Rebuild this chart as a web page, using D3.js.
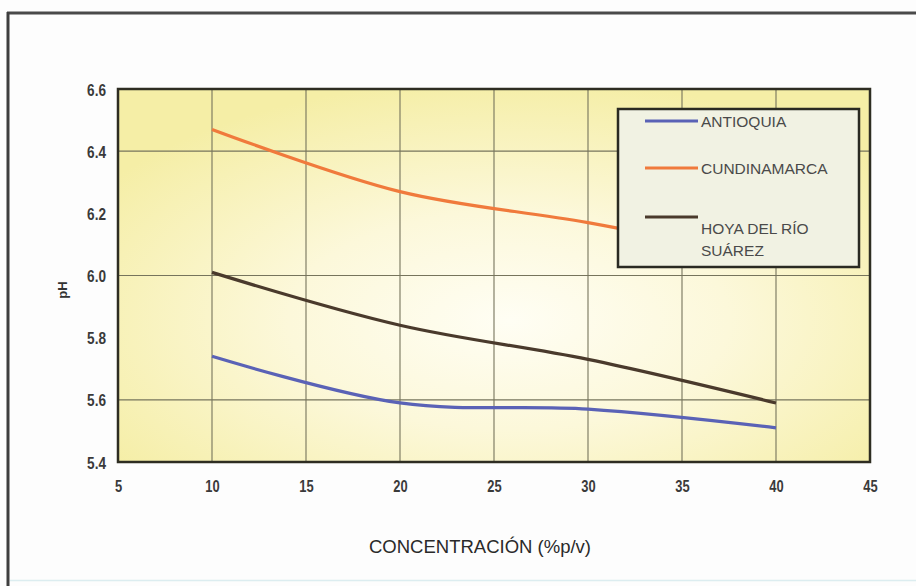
<!DOCTYPE html>
<html>
<head>
<meta charset="utf-8">
<script src="https://cdn.jsdelivr.net/npm/d3@7/dist/d3.min.js"></script>
<style>
  html, body { margin: 0; padding: 0; background: #fdfdfd; }
  svg { display: block; }
  text { font-family: "Liberation Sans", Arial, sans-serif; }
</style>
</head>
<body>
<svg id="chart" width="916" height="586"></svg>
<script>
// ---- data ----
const concentrations = [10, 20, 30, 40];
const seriesNames = ["ANTIOQUIA", "CUNDINAMARCA", "HOYA DEL RÍO SUÁREZ"];
const antioquia = [5.74, 5.59, 5.57, 5.51];
const cundinamarca = [6.47, 6.27, 6.17, 6.05];
const hoya = [6.01, 5.84, 5.73, 5.59];
const xTicks = [5, 10, 15, 20, 25, 30, 35, 40, 45];
const yTicks = [5.4, 5.6, 5.8, 6.0, 6.2, 6.4, 6.6];
const yGrid = [5.6, 6.0, 6.4];
const xTitle = "CONCENTRACIÓN (%p/v)";
const yTitle = "pH";

const colors = ["#5a62b6", "#f07a3c", "#4a3a2c"];
const seriesValues = [antioquia, cundinamarca, hoya];

(function () {
const svg = d3.select("#chart");
const pL = 118, pR = 870, pT = 89, pB = 462;
const x = d3.scaleLinear().domain([5, 45]).range([pL, pR]);
const y = d3.scaleLinear().domain([5.4, 6.6]).range([pB, pT]);

// outer frame
svg.append("rect").attr("x", 0).attr("y", 0).attr("width", 916).attr("height", 586).attr("fill", "#fdfdfd");
svg.append("line").attr("x1", 7).attr("x2", 916).attr("y1", 13).attr("y2", 13)
  .attr("stroke", "#4a4a4a").attr("stroke-width", 3);
svg.append("line").attr("x1", 8).attr("x2", 8).attr("y1", 12).attr("y2", 586)
  .attr("stroke", "#3e3e3e").attr("stroke-width", 3);
svg.append("line").attr("x1", 10).attr("x2", 916).attr("y1", 580.5).attr("y2", 580.5)
  .attr("stroke", "#dcedf0").attr("stroke-width", 1.5);

// plot background
const defs = svg.append("defs");
const grad = defs.append("radialGradient").attr("id", "bg")
  .attr("cx", "52%").attr("cy", "62%").attr("r", "65%");
grad.append("stop").attr("offset", "0%").attr("stop-color", "#fffef4");
grad.append("stop").attr("offset", "45%").attr("stop-color", "#fcf8da");
grad.append("stop").attr("offset", "100%").attr("stop-color", "#f5eea6");

svg.append("rect").attr("x", pL).attr("y", pT)
  .attr("width", pR - pL).attr("height", pB - pT)
  .attr("fill", "url(#bg)");

// grid
const g = svg.append("g");
g.selectAll(".vg").data(xTicks.filter(d => d > 5 && d < 45)).join("line")
  .attr("x1", d => x(d)).attr("x2", d => x(d))
  .attr("y1", pT).attr("y2", pB)
  .attr("stroke", "#76745c").attr("stroke-width", 1.1);
g.selectAll(".hg").data(yGrid).join("line")
  .attr("x1", pL).attr("x2", pR)
  .attr("y1", d => y(d)).attr("y2", d => y(d))
  .attr("stroke", "#76745c").attr("stroke-width", 1.1);

// series lines
const line = d3.line()
  .x((d, i) => x(concentrations[i]))
  .y(d => y(d))
  .curve(d3.curveCatmullRom.alpha(0.5));
seriesValues.forEach((vals, i) => {
  svg.append("path").datum(vals)
    .attr("d", line)
    .attr("fill", "none")
    .attr("stroke", colors[i])
    .attr("stroke-width", 3.2)
    .attr("stroke-linejoin", "round");
});

// plot frame
svg.append("rect").attr("x", pL).attr("y", pT)
  .attr("width", pR - pL).attr("height", pB - pT)
  .attr("fill", "none").attr("stroke", "#2e2d22").attr("stroke-width", 2.5);

// axes (tick labels)
const yAxis = d3.axisLeft(y).tickValues(yTicks).tickFormat(d3.format(".1f")).tickSize(0).tickPadding(0);
const ya = svg.append("g").attr("transform", "translate(106,0)").call(yAxis);
ya.select(".domain").remove();
ya.selectAll(".tick text")
  .attr("x", 0).attr("dy", "0.36em")
  .attr("font-size", 17).attr("fill", "#3a3a3a").attr("font-weight", "bold")
  .attr("transform", "scale(0.8,1)")
  .style("font-family", "'Liberation Sans', Arial, sans-serif");

const xAxis = d3.axisBottom(x).tickValues(xTicks).tickFormat(d3.format("d")).tickSize(0).tickPadding(0);
const xa = svg.append("g").attr("transform", "translate(0,480)").call(xAxis);
xa.select(".domain").remove();
xa.selectAll(".tick text")
  .attr("y", 0).attr("dy", "0.71em")
  .attr("font-size", 17).attr("fill", "#3a3a3a").attr("font-weight", "bold")
  .attr("transform", "scale(0.76,1)")
  .style("font-family", "'Liberation Sans', Arial, sans-serif");

// axis titles
svg.append("text").attr("x", 480).attr("y", 553)
  .attr("text-anchor", "middle").attr("font-size", 18.5).attr("fill", "#2a2a2a")
  .text(xTitle);
svg.append("text").attr("transform", "translate(67,290) rotate(-90)")
  .attr("text-anchor", "middle").attr("font-size", 13).attr("font-weight", "bold").attr("fill", "#333333")
  .text(yTitle);

// legend
const lg = svg.append("g");
lg.append("rect").attr("x", 618).attr("y", 109).attr("width", 241).attr("height", 158)
  .attr("fill", "#f1f2e3").attr("stroke", "#2a2a22").attr("stroke-width", 2.5);
const legY = [121, 168, 217];
seriesNames.forEach((name, i) => {
  lg.append("line").attr("x1", 645).attr("x2", 698)
    .attr("y1", legY[i]).attr("y2", legY[i])
    .attr("stroke", colors[i]).attr("stroke-width", 3);
});
lg.append("text").attr("x", 701).attr("y", legY[0] + 6).attr("font-size", 15.5).attr("fill", "#4a4a4a").text(seriesNames[0]);
lg.append("text").attr("x", 701).attr("y", legY[1] + 6).attr("font-size", 15.5).attr("fill", "#4a4a4a").text(seriesNames[1]);
lg.append("text").attr("x", 701).attr("y", 234).attr("font-size", 15.5).attr("fill", "#4a4a4a").text("HOYA DEL RÍO");
lg.append("text").attr("x", 701).attr("y", 256).attr("font-size", 15.5).attr("fill", "#4a4a4a").text("SUÁREZ");
})();
</script>
</body>
</html>
